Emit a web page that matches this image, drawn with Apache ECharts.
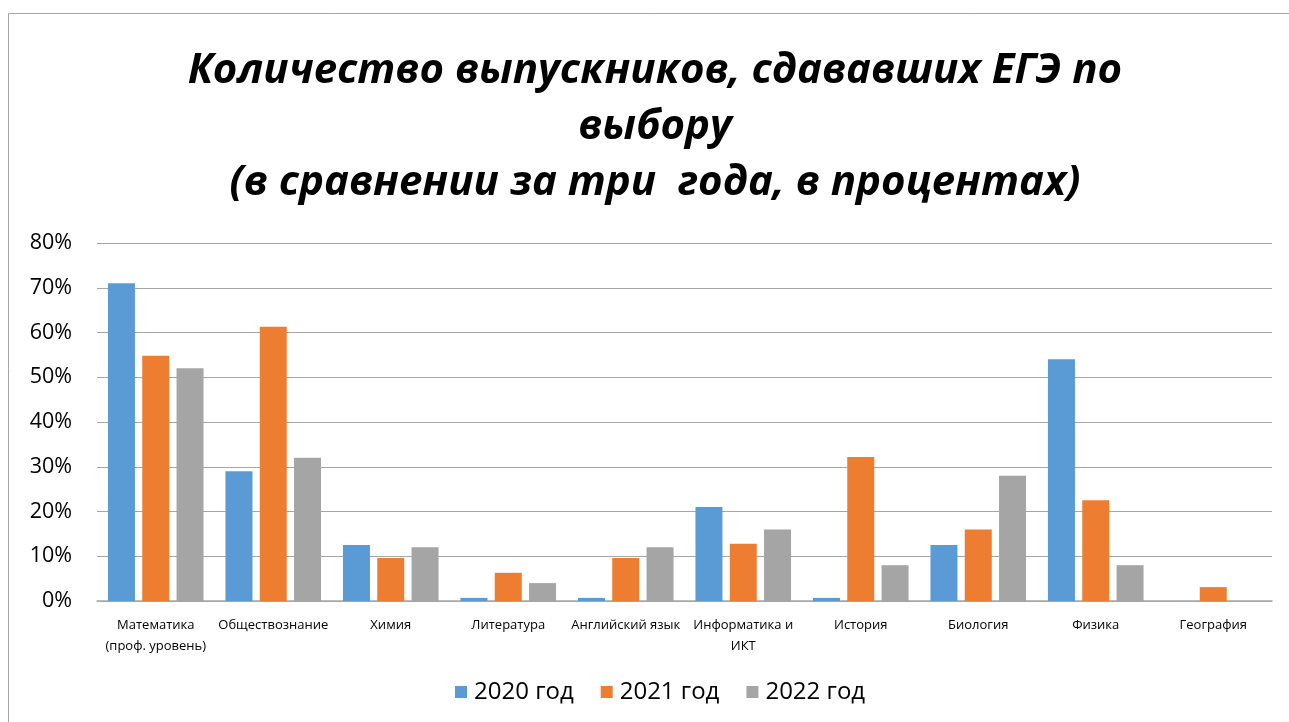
<!DOCTYPE html>
<html><head><meta charset="utf-8">
<script src="https://cdn.jsdelivr.net/npm/echarts@6/dist/echarts.min.js"></script>
<style>html,body{margin:0;padding:0;background:#fff}#c{width:1289px;height:722px}</style>
</head><body><div id="c"></div>
<script>
const categories = ["Математика\n(проф. уровень)", "Обществознание", "Химия", "Литература", "Английский язык", "Информатика и\nИКТ", "История", "Биология", "Физика", "География"];
const seriesNames = ["2020 год", "2021 год", "2022 год"];
const values2020 = [71, 29, 12.5, 0.7, 0.7, 21, 0.7, 12.5, 54, null];
const values2021 = [54.8, 61.3, 9.6, 6.3, 9.6, 12.8, 32.2, 16, 22.5, 3.1];
const values2022 = [52, 32, 12, 4, 12, 16, 8, 28, 8, null];
const yTicks = [0, 10, 20, 30, 40, 50, 60, 70, 80];
const titleText = "Количество выпускников, сдававших ЕГЭ по\nвыбору\n(в сравнении за три  года, в процентах)";

const colors = ["#5B9BD5", "#ED7D31", "#A5A5A5"];
const chart = echarts.init(document.getElementById('c'));
const mk = (name, data, i) => ({
  name, type: 'bar', data, barWidth: 27, barGap: '27%',
  itemStyle: { color: colors[i] }, emphasis: { disabled: true }
});
chart.setOption({
  animation: false,
  textStyle: { fontFamily: 'Open Sans' },
  title: {
    text: titleText, left: 650, textAlign: 'center', top: 38,
    textStyle: { fontFamily: 'Open Sans', fontWeight: 'bold', fontStyle: 'italic', fontSize: 42, lineHeight: 56, color: '#000' }
  },
  graphic: [{ type: 'rect', shape: { x: 8.5, y: 13.5, width: 1300, height: 720 }, style: { fill: 'none', stroke: '#a6a6a6', lineWidth: 1 }, silent: true }],
  legend: {
    data: seriesNames, bottom: 13, left: 450, itemWidth: 12, itemHeight: 12, itemGap: 27,
    icon: 'rect', textStyle: { fontSize: 24, color: '#000', fontFamily: 'Open Sans', padding: [0, 0, 0, 2] }
  },
  grid: { left: 97, right: 17, top: 243, bottom: 121, containLabel: false },
  xAxis: {
    type: 'category', data: categories,
    axisLine: { lineStyle: { color: '#a6a6a6', width: 1.5 } },
    axisTick: { show: false },
    axisLabel: { interval: 0, fontSize: 13, color: '#000', margin: 14, lineHeight: 21 }
  },
  yAxis: {
    type: 'value', min: yTicks[0], max: yTicks[yTicks.length - 1], interval: 10,
    axisLine: { show: false }, axisTick: { show: false },
    splitLine: { lineStyle: { color: '#a6a6a6', width: 1.2 } },
    axisLabel: { formatter: v => v + '%', fontSize: 21.5, color: '#000', margin: 25 }
  },
  series: [mk(seriesNames[0], values2020, 0), mk(seriesNames[1], values2021, 1), mk(seriesNames[2], values2022, 2)]
});
</script></body></html>
